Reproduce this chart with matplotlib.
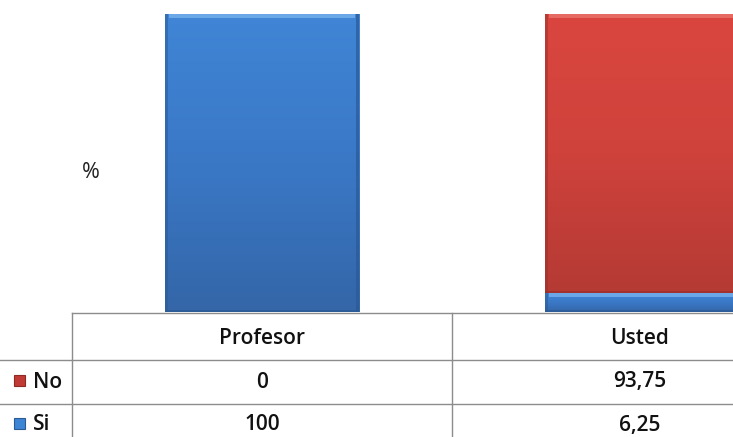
import numpy as np
import matplotlib
matplotlib.use("Agg")
import matplotlib.pyplot as plt
from matplotlib.patches import Rectangle
from matplotlib.colors import LinearSegmentedColormap

categories = ["Profesor", "Usted"]
series_names = ["No", "Si"]
si_values = [100, 6.25]
no_values = [0, 93.75]
cell_text = {"No": ["0", "93,75"], "Si": ["100", "6,25"]}

W, H = 733, 437
fig = plt.figure(figsize=(W / 100, H / 100), dpi=100)
fig.patch.set_facecolor("white")

def fx(px):
    return px / W

def fy(py):
    return 1 - py / H

# plot area: starts at the table's left edge and runs past the right border
left_px, right_px = 72, 832
top_px, base_px = 14, 312
ax = fig.add_axes([fx(left_px), fy(base_px), (right_px - left_px) / W, (base_px - top_px) / H])
ax.set_xlim(-0.5, len(categories) - 0.5)
ax.set_ylim(0, 100)
ax.axis("off")

blue_cmap = LinearSegmentedColormap.from_list("b", ["#3466a8", "#3a78c6", "#4085d6"])
red_cmap = LinearSegmentedColormap.from_list("r", ["#b53a34", "#cf423c", "#da463f"])
blue_edge = "#2b5a94"
red_edge = "#9c302b"

bar_w = 0.513
x = np.arange(len(categories))

def draw_bar(xc, bottom, height, cmap, edge, bevel_col):
    if height <= 0:
        return
    rect = Rectangle((xc - bar_w / 2, bottom), bar_w, height,
                     facecolor="none", edgecolor="none")
    ax.add_patch(rect)
    grad = np.linspace(0, 1, 256).reshape(-1, 1)
    im = ax.imshow(grad, cmap=cmap, aspect="auto", origin="lower",
                   extent=(xc - bar_w / 2, xc + bar_w / 2, bottom, bottom + height),
                   zorder=2)
    im.set_clip_path(rect)
    # bevel: light top band and darker sides/bottom
    px_unit_y = 100 / (base_px - top_px)
    px_unit_x = 1 / 380
    band = min(4 * px_unit_y, height * 0.35)
    ax.add_patch(Rectangle((xc - bar_w / 2 + 4 * px_unit_x, bottom + height - band),
                           bar_w - 8 * px_unit_x, band,
                           facecolor=bevel_col, edgecolor="none", alpha=0.7, zorder=3))
    ax.add_patch(Rectangle((xc - bar_w / 2, bottom), 3 * px_unit_x, height,
                           facecolor=edge, edgecolor="none", alpha=0.5, zorder=3))
    ax.add_patch(Rectangle((xc + bar_w / 2 - 3 * px_unit_x, bottom), 3 * px_unit_x, height,
                           facecolor=edge, edgecolor="none", alpha=0.7, zorder=3))
    ax.add_patch(Rectangle((xc - bar_w / 2, bottom), bar_w, min(2 * px_unit_y, height * 0.2),
                           facecolor=edge, edgecolor="none", alpha=0.7, zorder=3))

for i in range(len(categories)):
    draw_bar(x[i], 0, si_values[i], blue_cmap, blue_edge, "#7fb8f0")
    draw_bar(x[i], si_values[i], no_values[i], red_cmap, red_edge, "#ee7a72")

# axis title
fig.text(fx(91), fy(173), "%", fontsize=15.5, family="Open Sans",
         ha="center", va="center", color="#222222")

# data table grid
grid_col = "#8c8c8c"
row_lines = [313, 360, 404]
col_lines = [72, 452]
fig.add_artist(plt.Line2D([fx(72), 1], [fy(313), fy(313)], color=grid_col, lw=1.0))
for yl in row_lines[1:]:
    fig.add_artist(plt.Line2D([0, 1], [fy(yl), fy(yl)], color=grid_col, lw=1.0))
for xl in col_lines:
    fig.add_artist(plt.Line2D([fx(xl), fx(xl)], [fy(313), 0], color=grid_col, lw=1.0))

font = dict(family="Open Sans", fontsize=15, weight="semibold", color="#111111")
col_centers = [262, 640]
for c, name in zip(col_centers, categories):
    fig.text(fx(c), fy(339), name, ha="center", va="center", **font)

row_y = {"No": 382, "Si": 425}
key_colors = {"No": ("#c23a35", "#8e2a26"), "Si": ("#3f85d6", "#2b5a94")}
for name in series_names:
    yc = row_y[name]
    face, edge = key_colors[name]
    fig.add_artist(Rectangle((fx(14), fy(yc + 4)), 11 / W, 11 / H, facecolor=face,
                             edgecolor=edge, lw=0.8, transform=fig.transFigure))
    fig.text(fx(33), fy(yc), name, ha="left", va="center", **font)
    for c, t in zip(col_centers, cell_text[name]):
        fig.text(fx(c), fy(yc), t, ha="center", va="center", **font)

fig.savefig("out.png", dpi=100, facecolor="white")
